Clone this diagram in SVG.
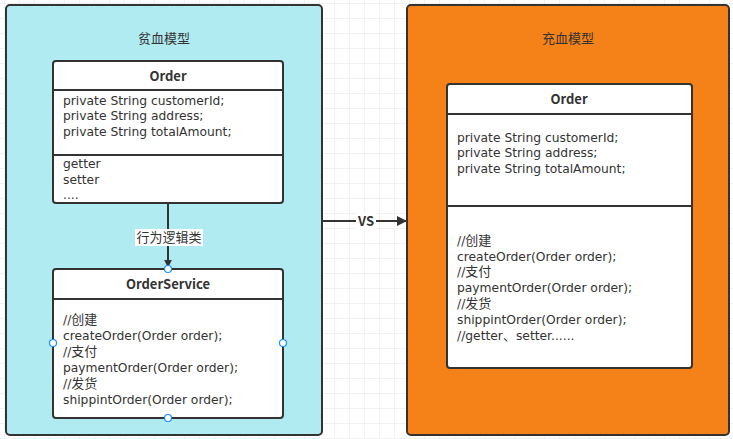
<svg xmlns="http://www.w3.org/2000/svg" width="733" height="439" viewBox="0 0 733 439">
<defs>
<pattern id="grid" x="4" y="3" width="15" height="15" patternUnits="userSpaceOnUse">
<path d="M0 0H15M0 0V15" fill="none" stroke="#e6e6e6" stroke-width="1"/>
</pattern>
<marker id="arr" viewBox="0 0 10 10" refX="9" refY="5" markerWidth="8" markerHeight="8" markerUnits="userSpaceOnUse" orient="auto">
<path d="M0 0L10 5L0 10Z" fill="#333"/>
</marker>
<marker id="arr2" viewBox="0 0 10 10" refX="9" refY="5" markerWidth="10" markerHeight="10" markerUnits="userSpaceOnUse" orient="auto">
<path d="M0 0L10 5L0 10Z" fill="#333"/>
</marker>
</defs>
<style>
text{font-family:"Noto Sans CJK SC","Noto Sans",sans-serif;fill:#333;font-size:13px}
.t{font-family:"DejaVu Sans","Noto Sans CJK SC",sans-serif;font-size:12.3px}
.k{font-size:13px}
.b{font-weight:bold;text-anchor:middle}
.c{text-anchor:middle}
.box{fill:#fff;stroke:#333;stroke-width:2}
.line{stroke:#333;stroke-width:2;fill:none}
.pt{fill:#fff;stroke:#1a8cff;stroke-width:1.2}
</style>
<rect x="0" y="0" width="733" height="439" fill="#fff"/>
<rect x="0" y="0" width="733" height="439" fill="url(#grid)"/>
<g id="anemic">
<rect x="6" y="5" width="316" height="430" rx="4" fill="#b1ebf2" stroke="#333" stroke-width="2"/>
<text class="c" x="164" y="43">贫血模型</text>
</g>
<g id="rich">
<rect x="407" y="5" width="322" height="430" rx="4" fill="#f58219" stroke="#333" stroke-width="2"/>
<text class="c" x="568" y="43">充血模型</text>
</g>
<g id="connectors">
<line class="line" x1="168" y1="203" x2="168" y2="267" marker-end="url(#arr)"/>
<rect x="135" y="229" width="68" height="17" fill="#fff"/>
<text class="c" x="169" y="242">行为逻辑类</text>
<line class="line" x1="323" y1="221" x2="406" y2="221" marker-end="url(#arr2)"/>
<rect x="356" y="213" width="20" height="16" fill="#fff"/>
<text class="b" x="366" y="226">VS</text>
</g>
<g id="order-left">
<rect class="box" x="53" y="61" width="230" height="142" rx="3"/>
<line class="line" x1="53" y1="90" x2="283" y2="90"/>
<line class="line" x1="53" y1="155" x2="283" y2="155"/>
<text class="b" x="168" y="81">Order</text>
<text class="t" x="63" y="104.5">private String customerId;</text>
<text class="t" x="63" y="120">private String address;</text>
<text class="t" x="63" y="135.5">private String totalAmount;</text>
<text class="t" x="63" y="167.5">getter</text>
<text class="t" x="63" y="183.5">setter</text>
<text class="t" x="63" y="199">....</text>
</g>
<g id="orderservice">
<rect class="box" x="53" y="269" width="230" height="149" rx="3"/>
<line class="line" x1="53" y1="299" x2="283" y2="299"/>
<text class="b" x="168" y="289">OrderService</text>
<text class="t" x="63" y="324">//<tspan class="k">创建</tspan></text>
<text class="t" x="63" y="340">createOrder(Order order);</text>
<text class="t" x="63" y="356">//<tspan class="k">支付</tspan></text>
<text class="t" x="63" y="372">paymentOrder(Order order);</text>
<text class="t" x="63" y="388">//<tspan class="k">发货</tspan></text>
<text class="t" x="63" y="404">shippintOrder(Order order);</text>
<circle class="pt" cx="168" cy="269" r="3.5"/>
<circle class="pt" cx="53" cy="343" r="3.5"/>
<circle class="pt" cx="283" cy="343" r="3.5"/>
<circle class="pt" cx="168" cy="418" r="3.5"/>
</g>
<g id="order-right">
<rect class="box" x="447" y="84" width="245" height="284" rx="3"/>
<line class="line" x1="447" y1="114" x2="692" y2="114"/>
<line class="line" x1="447" y1="206" x2="692" y2="206"/>
<text class="b" x="569" y="104">Order</text>
<text class="t" x="457" y="141.5">private String customerId;</text>
<text class="t" x="457" y="157">private String address;</text>
<text class="t" x="457" y="172.5">private String totalAmount;</text>
<text class="t" x="457" y="244.5">//<tspan class="k">创建</tspan></text>
<text class="t" x="457" y="260.5">createOrder(Order order);</text>
<text class="t" x="457" y="276">//<tspan class="k">支付</tspan></text>
<text class="t" x="457" y="292">paymentOrder(Order order);</text>
<text class="t" x="457" y="308">//<tspan class="k">发货</tspan></text>
<text class="t" x="457" y="324">shippintOrder(Order order);</text>
<text class="t" x="457" y="339.5">//getter<tspan class="k">、</tspan>setter......</text>
</g>
</svg>
